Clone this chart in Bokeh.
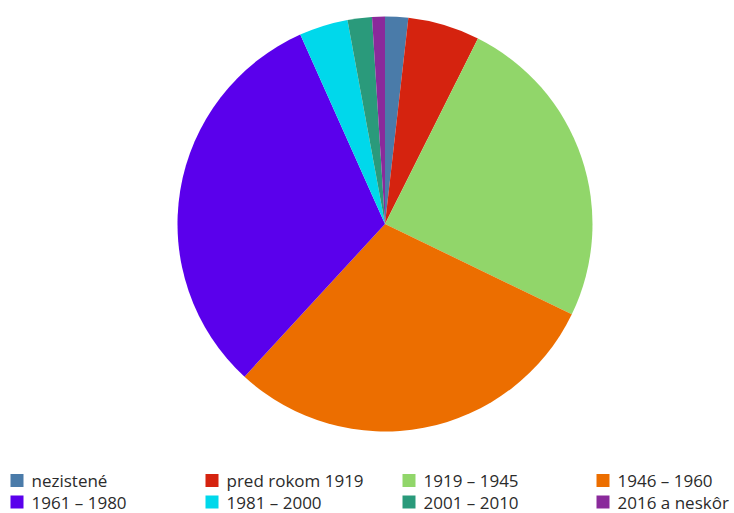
import numpy as np
from bokeh.plotting import figure
from bokeh.models import ColumnDataSource, Range1d
from bokeh.core.properties import value
from bokeh.embed import file_html
from bokeh.resources import INLINE

categories = ["nezistené", "pred rokom 1919", "1919 – 1945", "1946 – 1960",
              "1961 – 1980", "1981 – 2000", "2001 – 2010", "2016 a neskôr"]
shares = [1.8, 5.6, 24.8, 29.7, 31.5, 3.8, 1.9, 1.0]
colors = ["#4A7BA9", "#D5230F", "#91D66A", "#EC6E00",
          "#5A00EC", "#00D8EB", "#2A9A7B", "#8A2A9B"]

W, H = 734, 513
p = figure(width=W, height=H, output_backend="svg", toolbar_location=None,
           x_range=Range1d(0, W), y_range=Range1d(0, H),
           min_border=0, outline_line_color=None)
p.axis.visible = False
p.grid.visible = False

vals = np.array(shares, dtype=float)
frac = vals / vals.sum()
cum_end = np.cumsum(frac)
cum_start = cum_end - frac
start = np.pi / 2 - 2 * np.pi * cum_end
end = np.pi / 2 - 2 * np.pi * cum_start

src = ColumnDataSource(dict(start=start, end=end, color=colors, cat=categories))
p.wedge(x=384.5, y=289.5, radius=207.5, start_angle="start", end_angle="end",
        fill_color="color", line_color=None, source=src)

# legend (4 columns x 2 rows)
col_x = [10, 205, 402, 596]
row_y = [33, 11.5]
lx, ly, tx = [], [], []
for i in range(len(categories)):
    r, c = divmod(i, 4)
    lx.append(col_x[c] + 6.5)
    ly.append(row_y[r])
    tx.append(col_x[c] + 21)
lsrc = ColumnDataSource(dict(x=lx, y=ly, tx=tx, color=colors, cat=categories))
p.rect(x="x", y="y", width=13, height=13, fill_color="color", line_color=None, source=lsrc)
p.text(x="tx", y="y", text="cat", source=lsrc, text_baseline="middle",
       text_font=value("Open Sans"), text_font_size="17px", text_color="#2b2b2b")

open("out.html", "w").write(file_html(p, INLINE))
